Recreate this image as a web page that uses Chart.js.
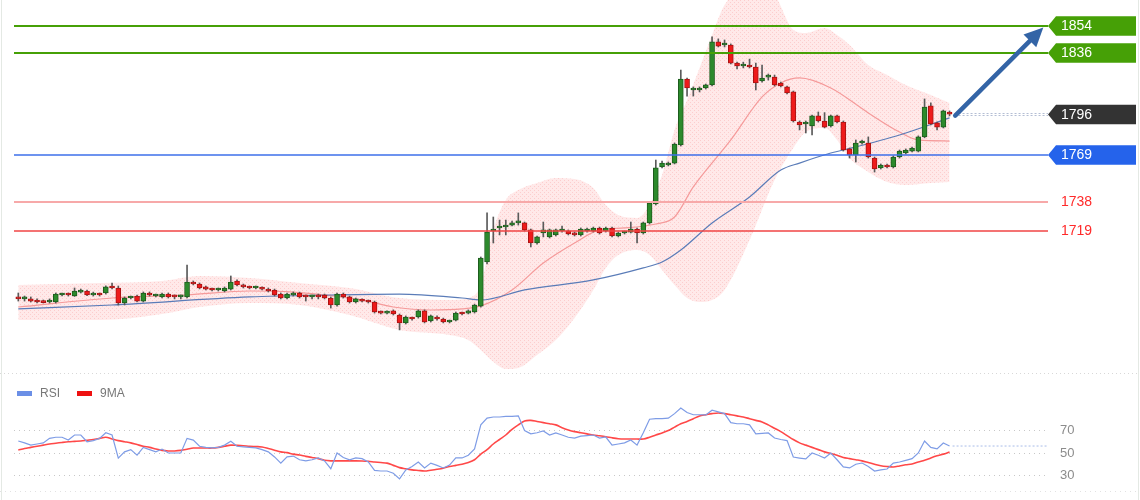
<!DOCTYPE html>
<html><head><meta charset="utf-8">
<script src="https://cdn.jsdelivr.net/npm/chart.js@4.4.1/dist/chart.umd.min.js"></script>
<style>
html,body{margin:0;padding:0;background:#fff;}
#wrap{position:relative;width:1140px;height:500px;overflow:hidden;background:#fff;}
#main{position:absolute;left:0;top:0;}
#rsi{position:absolute;left:0;top:374px;}
.edge{position:absolute;top:0;width:1px;height:500px;background:#e4e9e4;}
</style></head><body>
<div id="wrap">
<canvas id="main" width="1140" height="374"></canvas>
<canvas id="rsi" width="1140" height="126"></canvas>
<div class="edge" style="left:1px"></div>
<div class="edge" style="left:1138px"></div>
</div>
<script>
// ---------- DATA ----------
const open = [1675.7,1674.4,1674.4,1673.0,1672.4,1672.4,1672.4,1677.0,1677.6,1676.3,1678.9,1679.6,1677.0,1677.6,1678.3,1682.9,1681.6,1671.7,1675.0,1676.3,
1673.0,1678.3,1676.3,1675.7,1677.6,1676.3,1675.7,1675.7,1685.5,1684.2,1682.3,1680.9,1680.3,1679.6,1680.9,1686.2,1683.6,1682.3,1681.6,1681.6,
1680.9,1680.3,1677.6,1675.0,1677.0,1678.3,1676.3,1675.7,1676.3,1677.0,1675.0,1670.4,1677.6,1675.7,1672.4,1673.7,1673.0,1672.4,1665.8,1665.1,
1666.5,1663.8,1658.6,1661.8,1662.5,1666.5,1659.9,1662.5,1661.2,1659.2,1660.5,1665.1,1665.1,1665.8,1669.7,1698.7,1719.1,1721.1,1721.7,1723.0,
1724.4,1724.4,1719.8,1711.2,1717.8,1715.2,1716.5,1719.1,1719.1,1717.8,1716.5,1719.1,1719.1,1721.1,1719.1,1721.1,1715.8,1717.8,1718.4,1720.4,
1717.8,1724.4,1736.9,1761.2,1762.5,1763.8,1775.7,1819.1,1811.9,1811.9,1813.2,1815.2,1843.5,1841.5,1841.5,1829.6,1827.7,1828.3,1827.0,1817.8,
1820.4,1820.4,1816.5,1813.9,1810.6,1790.8,1789.5,1788.2,1794.8,1791.5,1788.2,1794.8,1790.8,1773.1,1769.1,1777.0,1777.0,1767.1,1760.6,1762.5,
1761.2,1767.8,1770.4,1771.7,1771.7,1781.0,1801.4,1790.2,1787.5,1797.4];
const high = [1678.3,1676.3,1675.7,1674.4,1673.7,1674.4,1678.3,1678.3,1678.3,1681.6,1680.9,1680.3,1678.9,1678.3,1683.0,1684.9,1682.9,1675.7,1676.3,1677.0,
1679.0,1679.0,1677.6,1678.3,1678.3,1677.0,1677.0,1696.7,1686.2,1684.9,1682.9,1681.6,1681.6,1682.3,1689.5,1686.9,1684.2,1682.9,1682.9,1682.3,
1681.6,1680.9,1678.3,1678.3,1679.0,1678.9,1677.0,1677.0,1677.6,1677.6,1675.7,1678.3,1678.3,1676.3,1675.0,1674.4,1673.7,1673.0,1666.5,1666.5,
1667.2,1664.5,1663.2,1662.5,1667.2,1667.2,1663.8,1663.2,1661.8,1660.5,1665.8,1665.8,1667.2,1671.0,1702.0,1731.0,1728.3,1726.3,1726.3,1725.7,
1731.0,1725.0,1720.4,1715.8,1725.0,1720.4,1720.4,1722.4,1719.8,1718.4,1721.1,1721.1,1721.7,1721.7,1721.7,1721.7,1718.4,1719.1,1725.0,1721.1,
1725.0,1738.2,1765.8,1765.1,1764.5,1777.0,1825.0,1819.8,1813.9,1813.9,1815.8,1846.8,1845.5,1844.8,1842.2,1830.2,1830.2,1832.2,1829.6,1828.3,
1822.4,1821.7,1817.1,1814.5,1811.2,1791.5,1791.5,1795.4,1797.4,1797.0,1795.4,1795.4,1791.5,1773.7,1779.0,1779.0,1781.0,1767.8,1763.2,1763.2,
1768.5,1772.4,1773.1,1774.4,1781.7,1806.0,1803.4,1790.8,1798.7,1798.1];
const low = [1673.0,1673.0,1672.4,1671.7,1671.7,1671.7,1671.7,1676.3,1676.3,1676.0,1678.3,1676.5,1676.3,1676.3,1677.6,1681.0,1670.4,1670.4,1674.4,1672.4,
1672.4,1676.3,1675.7,1675.0,1675.0,1674.4,1674.4,1675.0,1683.6,1681.0,1680.3,1679.6,1679.6,1679.0,1680.3,1683.0,1681.6,1681.0,1681.0,1680.3,
1679.0,1676.3,1674.4,1674.4,1676.3,1675.0,1673.0,1674.4,1674.4,1674.4,1668.4,1669.7,1675.0,1671.7,1671.7,1672.4,1671.7,1665.1,1664.5,1664.5,
1663.8,1654.0,1657.9,1660.5,1661.8,1658.6,1659.2,1660.5,1658.6,1658.6,1659.9,1663.8,1664.5,1665.1,1669.0,1697.4,1711.2,1716.5,1716.5,1722.4,
1723.0,1719.1,1708.6,1710.5,1715.2,1714.5,1715.8,1718.4,1716.5,1715.8,1715.8,1718.4,1718.4,1717.1,1718.4,1715.2,1715.2,1717.1,1717.8,1711.2,
1717.1,1723.7,1736.2,1760.6,1761.9,1763.2,1775.0,1807.9,1807.9,1810.6,1812.5,1814.5,1840.2,1840.2,1829.0,1825.7,1826.4,1826.4,1811.9,1817.1,
1818.4,1814.5,1813.9,1809.3,1790.8,1785.6,1783.6,1782.3,1790.8,1786.9,1787.5,1790.2,1771.7,1767.1,1764.5,1776.3,1767.1,1757.9,1759.9,1760.6,
1760.6,1767.1,1769.8,1771.1,1771.1,1780.4,1788.9,1785.6,1786.9,1794.8];
const close = [1674.4,1675.0,1673.0,1672.4,1672.0,1673.0,1677.6,1677.6,1677.0,1679.6,1679.6,1677.0,1677.6,1677.0,1682.3,1681.6,1671.7,1675.0,1675.7,1673.0,
1678.3,1677.0,1677.0,1677.6,1675.7,1675.7,1676.3,1685.5,1684.2,1681.6,1680.9,1680.3,1680.9,1681.6,1685.5,1683.6,1682.3,1681.6,1682.3,1680.9,
1679.6,1677.0,1675.0,1677.6,1678.3,1675.7,1675.7,1676.3,1675.7,1675.0,1670.4,1677.6,1675.7,1672.4,1674.4,1673.0,1672.4,1665.8,1665.1,1665.8,
1664.5,1658.6,1662.5,1661.2,1666.5,1659.2,1663.2,1661.2,1659.2,1659.9,1665.1,1664.5,1666.5,1670.4,1701.3,1718.4,1720.4,1721.7,1723.0,1724.4,
1725.0,1719.8,1711.2,1715.2,1719.8,1719.8,1719.8,1720.4,1717.1,1716.5,1720.4,1720.4,1721.1,1717.8,1721.1,1715.8,1717.8,1718.4,1720.4,1717.8,
1724.4,1737.5,1760.6,1763.8,1763.8,1776.3,1819.1,1813.2,1813.2,1813.2,1815.2,1843.5,1840.8,1842.2,1829.6,1827.7,1828.3,1827.0,1816.5,1819.8,
1821.1,1815.2,1814.5,1809.9,1791.5,1788.9,1790.2,1794.8,1791.5,1787.5,1794.8,1790.8,1772.4,1769.1,1777.0,1778.3,1767.8,1759.9,1762.5,1761.2,
1767.8,1771.7,1772.4,1773.7,1781.0,1800.7,1789.5,1787.5,1798.1,1796.0];

// Bollinger band (read at selected candle indices)
const bandIdx   = [0,13,23,29,37,45,53,61,69,72,74,76,78,80,83,86,89,92,94,96,99,101,103,105,107,109,111,113,117,121,124,126,129,131,133,136,139,142,146,149];
const bandUpper = [1683.6,1684.9,1686.2,1689.5,1688.2,1684.9,1681.6,1675.0,1673.7,1675.0,1683.6,1719.8,1739.5,1746.1,1750.7,1754.0,1753.3,1747.4,1736.2,1729.6,1727.7,1736.2,1756.0,1785.6,1805.3,1826.3,1848.1,1867.8,1881.0,1874.4,1851.4,1849.4,1852.7,1848.1,1841.5,1828.3,1821.8,1815.2,1808.6,1803.3];
const bandLower = [1660.5,1660.5,1664.5,1669.1,1671.7,1670.4,1663.8,1654.0,1650.7,1647.4,1640.8,1633.0,1628.3,1629.0,1637.5,1647.4,1661.9,1680.3,1694.8,1703.3,1706.6,1703.3,1693.5,1683.6,1675.0,1672.4,1673.7,1680.3,1713.2,1752.7,1773.7,1784.2,1786.9,1779.0,1767.1,1757.9,1751.3,1749.4,1750.7,1751.3];
// middle band (20 MA)
const midIdx = [0,15,27,37,44,55,60,66,71,74,79,84,89,93,97,102,105,108,114,119,122,125,130,136,141,144,149];
const midVal = [1669.1,1675.0,1677.0,1679.6,1678.9,1673.7,1669.1,1667.1,1667.8,1669.8,1680.3,1698.0,1711.2,1719.8,1721.1,1723.7,1728.3,1748.1,1779.0,1807.3,1816.5,1819.8,1813.2,1796.8,1784.2,1779.0,1778.3];
// long moving average (blue)
const maIdx = [0,15,37,50,61,71,74,81,92,100,103,106,111,117,122,125,130,132,141,149];
const maVal = [1667.8,1670.4,1675.7,1677.0,1677.6,1675.0,1673.7,1680.3,1686.9,1694.8,1698.7,1706.6,1724.4,1741.5,1759.2,1763.8,1770.4,1772.4,1782.3,1793.5];

// Levels
const resistLevels = [1854, 1836];
const pivotLevel = 1769;
const supportLevels = [1738, 1719];
const lastPrice = 1796;
const arrowFrom = [149.9, 1795];
const arrowTo = [164, 1853];

// RSI panel
const rsi = [60.7,59,57,58,59,63,64,64,61.5,66,66,60,61,63,68,66,45.5,51,53,48,
55,53,51,53.5,50,50,50,63,61.5,56,55,54.5,55,57,60.5,56,55.5,55,54.5,53,
51,46.5,41,46.5,47.3,44,43,44,45.6,43,36,50,46,44,45.6,45,42,34.5,34,34,
32,27,35,38,42,36.7,41,39,36.7,39.3,45.6,45.6,48,53.6,75,81,82,82,82.5,82.5,
83,70,67,68,69.6,66,67.8,66,64,63.3,65,65.5,66,63.3,64.2,57,58,59,61.6,57,
68,80,80.5,80.5,81,85,90,86,84,84,83.8,88,86.5,85,77,76,76,75,67,67.5,
67.8,63.3,62,61,46.4,45.5,44.7,50,48,45.6,50,44,37.6,36.7,40,41.1,38,34,35,35.8,
41,42,43.5,45,50,60.7,55,53.6,58.9,56.2];
const rsiMA = [52.7,54,55,56,57,58,58.7,59.4,60,60.3,60.6,61.3,62,63,64,62.5,61,60,59,57.5,
56,55,53.5,52.3,51.8,51.8,52.3,53.3,54.4,54.4,54.4,54.4,55,56,57,56.8,56.5,56,55.7,55.4,
54,52.5,51,50.3,49,48.2,47,46,45,43.5,43,43,43,43,43,42.9,42.6,42,41.5,41,
39,37,36,35,34.5,34,34.7,35.5,36.5,38,39,40,41.5,44,49,53,58,62,66,71,
75,78.5,79,78,77,76,75,72.5,70.5,69,68,67,66,65.3,64.5,63.5,62.7,62.4,62.4,62.4,
62.4,64,66,67.8,70,73,76,78,80.5,82.9,84,85,85.6,85,84,83,82,80.5,79,77.6,
75,72,69,65.5,62,59,57,55,53,51,49.5,48,46,45,44,43,41.5,40,38.7,38,
37.6,38.5,39.5,40.2,42,43.5,45.6,47.5,49,50.9];
const rsiTicks = [70, 50, 30];

// ---------- LAYOUT ----------
const X_MIN = -2.928, X_MAX = 179.47;   // candle index range across canvas width
const LINE_X0 = 14, LINE_X1 = 1048;
const GREEN = '#46a006', BLUE = '#2563eb', DARK = '#333333';

function pts(idx, vals){ return idx.map((v,k)=>({x:v, y:vals[k]})); }
const idxs = close.map((_,i)=>i);
const up = close.map((c,i)=>c>=open[i]);

function bandPattern(){
  const c = document.createElement('canvas'); c.width = 4; c.height = 4;
  const g = c.getContext('2d');
  g.fillStyle = 'rgba(252,120,120,0.16)'; g.fillRect(0,0,4,4);
  g.fillStyle = 'rgba(240,110,110,0.22)'; g.fillRect(0,0,1,1); g.fillRect(2,2,1,1);
  return g.createPattern(c,'repeat');
}

function labelBox(ctx, yc, color, text){
  const x0 = LINE_X1, x1 = 1136, h = 19.5;
  ctx.beginPath();
  ctx.moveTo(x0, yc);
  ctx.lineTo(x0+8, yc-h/2);
  ctx.lineTo(x1, yc-h/2);
  ctx.lineTo(x1, yc+h/2);
  ctx.lineTo(x0+8, yc+h/2);
  ctx.closePath();
  ctx.fillStyle = color; ctx.fill();
  ctx.fillStyle = '#fff';
  ctx.font = '14px "Liberation Sans", Arial, sans-serif';
  ctx.textBaseline = 'middle'; ctx.textAlign = 'left';
  ctx.fillText(text, 1061, yc+0.5);
}

const mainOverlay = {
  id:'mainOverlay',
  beforeDatasetsDraw(chart){
    const {ctx} = chart;
    ctx.save();
    ctx.strokeStyle = '#d8d8d8'; ctx.lineWidth = 1; ctx.setLineDash([1,3]);
    ctx.beginPath(); ctx.moveTo(0,373.5); ctx.lineTo(1140,373.5); ctx.stroke();
    ctx.restore();
  },
  afterDatasetsDraw(chart){
    const {ctx, scales:{x, y}} = chart;
    ctx.save();
    ctx.lineCap = 'butt';
    const hline = (v, color, w) => {
      const py = Math.round(y.getPixelForValue(v));
      ctx.strokeStyle = color; ctx.lineWidth = w; ctx.setLineDash([]);
      ctx.beginPath(); ctx.moveTo(LINE_X0, py); ctx.lineTo(LINE_X1, py); ctx.stroke();
      return py;
    };
    resistLevels.forEach(v => { const py = hline(v, GREEN, 2); labelBox(ctx, py, GREEN, String(v)); });
    const pp = hline(pivotLevel, '#3d6fea', 1.6);
    labelBox(ctx, pp, BLUE, String(pivotLevel));
    supportLevels.forEach((v,k) => {
      const py = k === 0 ? hline(v, '#f7a9a9', 2) : hline(v, '#f04444', 1.5);
      ctx.fillStyle = '#ff2a2a';
      ctx.font = '14px "Liberation Sans", Arial, sans-serif';
      ctx.textBaseline = 'middle'; ctx.textAlign = 'left';
      ctx.fillText(String(v), 1061, py+0.5);
    });
    const lp = Math.round(y.getPixelForValue(lastPrice));
    ctx.strokeStyle = '#b4bed4'; ctx.lineWidth = 1; ctx.setLineDash([2,2]);
    const xs = x.getPixelForValue(close.length - 1) + 5;
    [lp-0.5, lp+1.5].forEach(yy => { ctx.beginPath(); ctx.moveTo(xs, yy); ctx.lineTo(LINE_X1, yy); ctx.stroke(); });
    ctx.setLineDash([]);
    labelBox(ctx, lp+0.5, DARK, String(lastPrice));
    const ax0 = x.getPixelForValue(arrowFrom[0]), ay0 = y.getPixelForValue(arrowFrom[1]);
    const ax1 = x.getPixelForValue(arrowTo[0]), ay1 = y.getPixelForValue(arrowTo[1]);
    const ang = Math.atan2(ay1-ay0, ax1-ax0);
    const hl = 19, hw = 9;
    const bx = ax1 - hl*Math.cos(ang), by = ay1 - hl*Math.sin(ang);
    ctx.strokeStyle = '#3364a6'; ctx.lineWidth = 4.5; ctx.lineCap = 'round';
    ctx.beginPath(); ctx.moveTo(ax0, ay0); ctx.lineTo(bx, by); ctx.stroke();
    ctx.fillStyle = '#3364a6';
    ctx.beginPath();
    ctx.moveTo(ax1, ay1);
    ctx.lineTo(bx + hw*Math.sin(ang), by - hw*Math.cos(ang));
    ctx.lineTo(bx - hw*Math.sin(ang), by + hw*Math.cos(ang));
    ctx.closePath(); ctx.fill();
    ctx.restore();
  }
};

new Chart(document.getElementById('main'), {
  type: 'bar',
  data: {
    datasets: [
      { type:'line', data: pts(bandIdx, bandUpper), borderColor:'rgba(0,0,0,0)', borderWidth:1, pointRadius:0,
        cubicInterpolationMode:'monotone', fill:false, order:20 },
      { type:'line', data: pts(bandIdx, bandLower), borderColor:'rgba(0,0,0,0)', borderWidth:1, pointRadius:0,
        cubicInterpolationMode:'monotone', fill:'-1', backgroundColor: bandPattern(), order:19 },
      { type:'line', data: pts(midIdx, midVal), borderColor:'#f59a9a', borderWidth:1.2, pointRadius:0,
        cubicInterpolationMode:'monotone', fill:false, order:10 },
      { type:'line', data: pts(maIdx, maVal), borderColor:'#5a7cb8', borderWidth:1.2, pointRadius:0,
        cubicInterpolationMode:'monotone', fill:false, order:9 },
      { type:'bar', data: idxs.map(i=>({x:i, y:[low[i], high[i]]})), backgroundColor:'#5a5a5a',
        barThickness:1, grouped:false, order:2 },
      { type:'bar', data: idxs.map(i=>({x:i, y:[open[i], close[i]]})),
        backgroundColor: up.map(u=>u ? '#2c8a2c' : '#ee1b1b'),
        borderColor: up.map(u=>u ? '#1d5c1d' : '#a81414'),
        borderWidth:1, borderSkipped:false, barThickness:5, minBarLength:2, grouped:false, order:1 }
    ]
  },
  options: {
    responsive:false, animation:false, events:[],
    layout:{padding:0},
    plugins:{legend:{display:false}, tooltip:{enabled:false}},
    scales:{
      x:{type:'linear', min:X_MIN, max:X_MAX, offset:false, display:false},
      y:{type:'linear', min:1625.0, max:1871.1, display:false}
    }
  },
  plugins:[mainOverlay]
});

const rsiOverlay = {
  id:'rsiOverlay',
  beforeDatasetsDraw(chart){
    const {ctx, scales:{x, y}} = chart;
    ctx.save();
    ctx.strokeStyle = '#c8c8c8'; ctx.lineWidth = 1; ctx.setLineDash([1,4]);
    rsiTicks.forEach(v => {
      const py = Math.round(y.getPixelForValue(v)) + 0.5;
      ctx.beginPath(); ctx.moveTo(LINE_X0, py); ctx.lineTo(1047, py); ctx.stroke();
      ctx.fillStyle = '#8c8c8c';
      ctx.font = '13px "Liberation Sans", Arial, sans-serif';
      ctx.textBaseline = 'middle'; ctx.textAlign = 'left';
      ctx.fillText(String(v), 1060, py);
    });
    ctx.strokeStyle = '#e2e2e2';
    ctx.beginPath(); ctx.moveTo(0, 117.5); ctx.lineTo(1140, 117.5); ctx.stroke();
    const last = rsi[rsi.length-1];
    const py = y.getPixelForValue(last);
    ctx.strokeStyle = '#a9bde9'; ctx.setLineDash([2,2]);
    ctx.beginPath(); ctx.moveTo(x.getPixelForValue(rsi.length-1)+3, py); ctx.lineTo(1047, py); ctx.stroke();
    ctx.setLineDash([]);
    ctx.font = '12px "Liberation Sans", Arial, sans-serif';
    ctx.textBaseline = 'middle';
    ctx.fillStyle = '#6b8fe6'; ctx.fillRect(17, 17, 15, 5);
    ctx.fillStyle = '#777'; ctx.fillText('RSI', 40, 19.5);
    ctx.fillStyle = '#ee1111'; ctx.fillRect(77, 17, 15, 5);
    ctx.fillStyle = '#777'; ctx.fillText('9MA', 100, 19.5);
    ctx.restore();
  }
};

new Chart(document.getElementById('rsi'), {
  type:'line',
  data:{
    datasets:[
      { data: idxs.map(i=>({x:i, y:rsiMA[i]})), borderColor:'rgba(255,40,40,0.85)', borderWidth:1.6, pointRadius:0, tension:0.3, order:2 },
      { data: idxs.map(i=>({x:i, y:rsi[i]})), borderColor:'#7e9ce6', borderWidth:1.2, pointRadius:0, tension:0, order:1 }
    ]
  },
  options:{
    responsive:false, animation:false, events:[],
    layout:{padding:0},
    plugins:{legend:{display:false}, tooltip:{enabled:false}},
    scales:{
      x:{type:'linear', min:X_MIN, max:X_MAX, offset:false, display:false},
      y:{type:'linear', min:8.22, max:120.22, display:false}
    }
  },
  plugins:[rsiOverlay]
});
</script>
</body></html>
